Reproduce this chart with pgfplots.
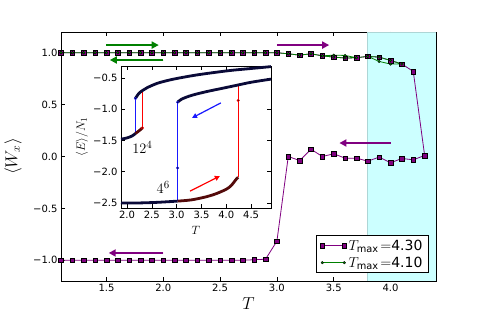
\documentclass[border=0pt]{standalone}
\usepackage{fontspec}
\setmainfont{DejaVu Sans}
\usepackage{pgfplots}
\pgfplotsset{compat=1.18}
\usetikzlibrary{arrows.meta}
\definecolor{mpurple}{rgb}{0.5,0,0.5}
\definecolor{mgreen}{rgb}{0,0.5,0}
\definecolor{spancyan}{rgb}{0.8,1,1}
\definecolor{spanedge}{rgb}{0.68,0.84,0.84}
\definecolor{navy}{rgb}{0.04,0.04,0.22}
\definecolor{dred}{rgb}{0.33,0.04,0.04}
\definecolor{lred}{rgb}{1,0.25,0.25}
\definecolor{lblue}{rgb}{0.1,0.1,1}
\begin{document}
\begin{tikzpicture}
\useasboundingbox (-61pt,-31pt) rectangle (424pt,281pt);
\begin{axis}[
  scale only axis, width=375pt, height=249pt,
  xmin=1.1, xmax=4.4, ymin=-1.2, ymax=1.2,
  xtick={1.5,2,2.5,3,3.5,4}, xticklabels={1.5,2.0,2.5,3.0,3.5,4.0},
  ytick={-1,-0.5,0,0.5,1}, yticklabels={−1.0,−0.5,0.0,0.5,1.0},
  tick align=inside, major tick length=4pt,
  tick style={black, line width=0.5pt},
  ticklabel style={font=\fontsize{10}{12}\selectfont},
  axis line style={line width=0.8pt},
  xlabel={$T$}, ylabel={$\langle W_x\rangle$},
  xlabel style={font=\fontsize{18}{20}\selectfont, at={(axis description cs:0.5,-0.09)}, anchor=center},
  ylabel style={font=\fontsize{18}{20}\selectfont, at={(axis description cs:-0.128,0.5)}, anchor=center},
  legend style={at={(rel axis cs:0.981,0.032)}, anchor=south east, draw=black, line width=0.8pt,
    font=\fontsize{14}{16}\selectfont, row sep=1pt, inner xsep=4pt, inner ysep=2pt, cells={anchor=west}},
  legend image code/.code={\draw[#1,mark repeat=2,mark phase=1] plot coordinates {(0pt,0pt) (11pt,0pt) (22pt,0pt)};},
]
\addplot[fill=spancyan, draw=spanedge, line width=0.8pt, forget plot] coordinates {(3.8,-1.2) (4.4,-1.2) (4.4,1.2) (3.8,1.2)} -- cycle;
% arrows
\addplot[draw=mgreen, fill=mgreen, line width=1.8pt, -{Triangle[length=7pt,width=7pt]}, forget plot] coordinates {(1.5,1.074) (1.96,1.074)};
\addplot[draw=mgreen, fill=mgreen, line width=1.8pt, -{Triangle[length=7pt,width=7pt]}, forget plot] coordinates {(2.0,0.93) (1.53,0.93)};
\addplot[draw=mpurple, fill=mpurple, line width=1.8pt, -{Triangle[length=7pt,width=7pt]}, forget plot] coordinates {(3.0,1.074) (3.46,1.074)};
\addplot[draw=mpurple, fill=mpurple, line width=1.8pt, -{Triangle[length=7pt,width=7pt]}, forget plot] coordinates {(2.0,-0.93) (1.52,-0.93)};
\addplot[draw=mpurple, fill=mpurple, line width=1.8pt, -{Triangle[length=7pt,width=7pt]}, forget plot] coordinates {(4.0,0.13) (3.55,0.13)};
% purple: heating then cooling
\addplot[color=mpurple, line width=0.8pt, mark=square*, mark size=2.3pt, mark options={fill=mpurple, draw=black, line width=0.4pt}] coordinates {
(1.1,1.0) (1.2,1.0) (1.3,1.0) (1.4,1.0) (1.5,1.0) (1.6,1.0) (1.7,1.0) (1.8,1.0) (1.9,1.0) (2.0,1.0)
(2.1,1.0) (2.2,1.0) (2.3,1.0) (2.4,1.0) (2.5,1.0) (2.6,1.0) (2.7,1.0) (2.8,1.0) (2.9,1.0) (3.0,1.0)
(3.1,0.99) (3.2,0.977) (3.3,0.99) (3.4,0.97) (3.5,0.958) (3.6,0.949) (3.7,0.952) (3.8,0.965) (3.9,0.958)
(4.0,0.926) (4.1,0.891) (4.2,0.82) (4.3,0.01)
(4.2,-0.032) (4.1,-0.019) (4.0,-0.061) (3.9,-0.006) (3.8,-0.045) (3.7,-0.016) (3.6,-0.016) (3.5,0.026)
(3.4,0.0) (3.3,0.07) (3.2,-0.039) (3.1,0.0) (3.0,-0.816) (2.9,-0.99) (2.8,-0.995) (2.7,-1.0) (2.6,-1.0)
(2.5,-1.0) (2.4,-1.0) (2.3,-1.0) (2.2,-1.0) (2.1,-1.0) (2.0,-1.0) (1.9,-1.0) (1.8,-1.0) (1.7,-1.0)
(1.6,-1.0) (1.5,-1.0) (1.4,-1.0) (1.3,-1.0) (1.2,-1.0) (1.1,-1.0)};
\addlegendentry{$T_{\max}\!=$4.30}
% green
\addplot[color=mgreen, line width=0.8pt, mark=*, mark size=1.3pt, mark options={fill=mgreen, draw=black, line width=0.3pt}] coordinates {
(1.1,1.0) (1.2,1.0) (1.3,1.0) (1.4,1.0) (1.5,1.0) (1.6,1.0) (1.7,1.0) (1.8,1.0) (1.9,1.0) (2.0,1.0)
(2.1,1.0) (2.2,1.0) (2.3,1.0) (2.4,1.0) (2.5,1.0) (2.6,1.0) (2.7,1.0) (2.8,1.0) (2.9,1.0) (3.0,1.0)
(3.1,0.99) (3.2,0.977) (3.3,0.99) (3.4,0.97) (3.5,0.958) (3.6,0.949) (3.7,0.952) (3.8,0.965) (3.9,0.958)
(4.0,0.926) (4.1,0.891)
(4.0,0.891) (3.9,0.916) (3.8,0.965) (3.7,0.952) (3.6,0.974) (3.5,0.977) (3.4,0.97) (3.3,0.99) (3.2,0.977)
(3.1,0.99) (3.0,1.0) (2.9,1.0) (2.8,1.0) (2.7,1.0) (2.6,1.0) (2.5,1.0) (2.4,1.0) (2.3,1.0) (2.2,1.0)
(2.1,1.0) (2.0,1.0) (1.9,1.0) (1.8,1.0) (1.7,1.0) (1.6,1.0) (1.5,1.0) (1.4,1.0) (1.3,1.0) (1.2,1.0) (1.1,1.0)};
\addlegendentry{$T_{\max}\!=$4.10}
\end{axis}
\begin{axis}[
  at={(60pt,73pt)}, anchor=south west,
  scale only axis, width=150pt, height=142pt,
  xmin=1.88, xmax=4.9, ymin=-2.58, ymax=-0.31,
  axis background/.style={fill=white},
  xtick={2,2.5,3,3.5,4,4.5}, xticklabels={2.0,2.5,3.0,3.5,4.0,4.5},
  ytick={-2.5,-2,-1.5,-1,-0.5}, yticklabels={−2.5,−2.0,−1.5,−1.0,−0.5},
  tick align=inside, major tick length=4pt,
  tick style={black, line width=0.5pt},
  ticklabel style={font=\fontsize{10}{12}\selectfont},
  axis line style={line width=0.8pt},
  xlabel={$T$}, ylabel={$\langle E\rangle/N_1$},
  xlabel style={font=\fontsize{13}{15}\selectfont, at={(axis description cs:0.5,-0.155)}, anchor=center},
  ylabel style={font=\fontsize{13}{15}\selectfont, at={(axis description cs:-0.26,0.5)}, anchor=center},
]
% verticals
\addplot[draw=lblue, line width=0.8pt] coordinates {(2.17,-1.39) (2.17,-0.83)};
\addplot[draw=lblue, line width=0.8pt] coordinates {(3.02,-2.47) (3.02,-0.89)};
\addplot[red, line width=1pt] coordinates {(2.31,-1.30) (2.31,-0.72)};
\addplot[red, line width=1pt] coordinates {(4.24,-2.09) (4.24,-0.61)};
% 12^4 branches
\addplot[draw=navy, line width=2.8pt, smooth] coordinates {(2.17,-0.83) (2.25,-0.74) (2.4,-0.66) (2.6,-0.59) (2.8,-0.545) (3.0,-0.51) (3.35,-0.46) (3.7,-0.42) (4.1,-0.38) (4.5,-0.35) (4.9,-0.32)};
\addplot[draw=navy, line width=2.8pt, smooth] coordinates {(1.88,-1.48) (2.0,-1.46) (2.1,-1.43) (2.17,-1.39)};
\addplot[draw=dred, line width=2.8pt, smooth] coordinates {(2.17,-1.39) (2.22,-1.36) (2.26,-1.335) (2.31,-1.30)};
% 4^6 branches
\addplot[draw=navy, line width=2.8pt, smooth] coordinates {(3.02,-0.89) (3.1,-0.84) (3.3,-0.78) (3.6,-0.72) (3.9,-0.67) (4.2,-0.62) (4.5,-0.57) (4.9,-0.52)};
\addplot[draw=navy, line width=2.8pt, smooth] coordinates {(1.88,-2.50) (2.2,-2.50) (2.6,-2.49) (3.02,-2.47)};
\addplot[draw=dred, line width=2.8pt, smooth] coordinates {(3.02,-2.47) (3.3,-2.45) (3.6,-2.40) (3.8,-2.35) (4.0,-2.28) (4.1,-2.22) (4.2,-2.12) (4.24,-2.09)};
% dots
\addplot[only marks, mark=*, mark size=1.3pt, mark options={fill=navy, draw=lblue}] coordinates {(2.17,-0.83) (3.02,-1.94) (3.02,-0.89)};
\addplot[only marks, mark=*, mark size=1.3pt, mark options={fill=dred, draw=red}] coordinates {(2.31,-1.30) (4.24,-0.86)};
% arrows
\addplot[draw=lblue, fill=lblue, line width=1.2pt, -{Triangle[length=5pt,width=5pt]}] coordinates {(3.89,-0.90) (3.31,-1.14)};
\addplot[draw=red, fill=red, line width=1.2pt, -{Triangle[length=5pt,width=5pt]}] coordinates {(3.27,-2.31) (3.87,-2.07)};
\node[font=\fontsize{15}{17}\selectfont] at (axis cs:2.31,-1.61) {$12^4$};
\node[font=\fontsize{15}{17}\selectfont] at (axis cs:2.73,-2.25) {$4^6$};
\end{axis}
\end{tikzpicture}
\end{document}
